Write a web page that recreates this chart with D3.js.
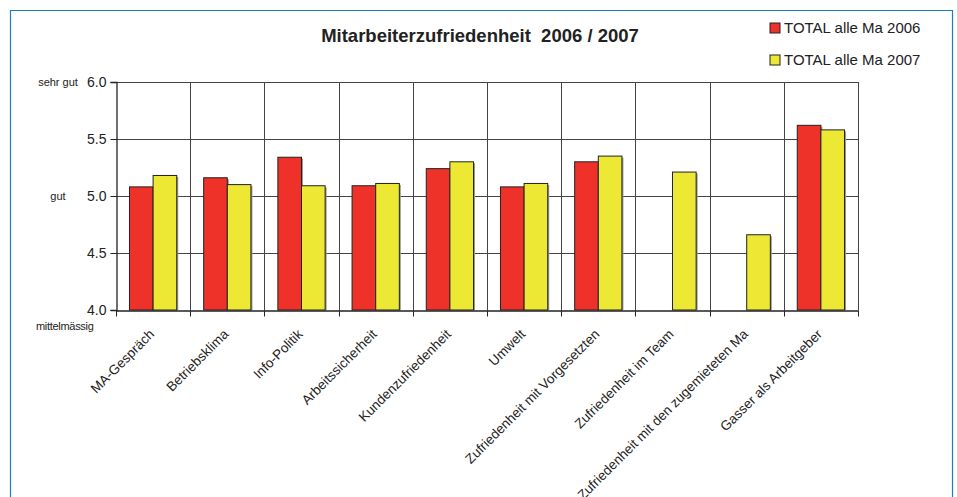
<!DOCTYPE html>
<html>
<head>
<meta charset="utf-8">
<script src="https://cdn.jsdelivr.net/npm/d3@7"></script>
<style>
	body { margin: 0; background: #fff; }
	text { font-family: "Liberation Sans", Arial, sans-serif; fill: #222; }
</style>
</head>
<body>
<div id="chart"></div>
<script>
// Kategorien und Werte
var categories = ["MA-Gespräch", "Betriebsklima", "Info-Politik", "Arbeitssicherheit", "Kundenzufriedenheit", "Umwelt", "Zufriedenheit mit Vorgesetzten", "Zufriedenheit im Team", "Zufriedenheit mit den zugemieteten Ma", "Gasser als Arbeitgeber"]
var values2006 = [5.08, 5.16, 5.34, 5.09, 5.24, 5.08, 5.30, null, null, 5.62]
var values2007 = [5.18, 5.10, 5.09, 5.11, 5.30, 5.11, 5.35, 5.21, 4.66, 5.58]
var seriesNames = ["TOTAL alle Ma 2006", "TOTAL alle Ma 2007"]
var seriesColors = ["#ee3229", "#ece834"]
var yTicks = [4.0, 4.5, 5.0, 5.5, 6.0]
var yWords = [{ v: 6.0, t: "sehr gut" }, { v: 5.0, t: "gut" }, { v: 4.0, t: "mittelmässig" }]

var width = 957, height = 497
var margin = { top: 82, right: 99, bottom: 187, left: 116 }

var svg = d3.select("#chart").append("svg")
	.attr("width", width)
	.attr("height", height)

// Rahmen (blau)
svg.append("path")
	.attr("d", "M10.5," + height + "V10.5H952.5V" + height)
	.attr("fill", "none")
	.attr("stroke", "#1a7fc1")
	.attr("stroke-width", 1.2)

var x = d3.scaleBand()
	.domain(categories)
	.range([margin.left, width - margin.right])
	.paddingInner(0)
	.paddingOuter(0)

var xSub = d3.scaleBand()
	.domain([0, 1])
	.range([0, x.bandwidth()])
	.paddingInner(0)
	.paddingOuter(0.57)

var y = d3.scaleLinear()
	.domain([4, 6])
	.range([height - margin.bottom, margin.top])

// horizontale Gitterlinien
svg.append("g")
	.selectAll("line")
	.data(yTicks.slice(1))
	.enter().append("line")
	.attr("x1", margin.left)
	.attr("x2", width - margin.right)
	.attr("y1", function (d) { return Math.round(y(d)) + 0.5 })
	.attr("y2", function (d) { return Math.round(y(d)) + 0.5 })
	.attr("stroke", "#444")
	.attr("stroke-width", 1)

// vertikale Gitterlinien (Kategoriegrenzen)
var bounds = categories.map(function (c) { return x(c) }).concat([x.range()[1]])
svg.append("g")
	.selectAll("line")
	.data(bounds.slice(1))
	.enter().append("line")
	.attr("x1", function (d) { return Math.round(d) + 0.5 })
	.attr("x2", function (d) { return Math.round(d) + 0.5 })
	.attr("y1", y(6))
	.attr("y2", y(4))
	.attr("stroke", "#444")
	.attr("stroke-width", 1)

// Balken
var data = []
categories.forEach(function (c, i) {
	data.push({ cat: c, s: 0, v: values2006[i] })
	data.push({ cat: c, s: 1, v: values2007[i] })
})
var bars = data.filter(function (d) { return d.v != null })

// leichter Schatten
svg.append("g")
	.selectAll("rect")
	.data(bars)
	.enter().append("rect")
	.attr("x", function (d) { return x(d.cat) + xSub(d.s) + 1.5 })
	.attr("y", function (d) { return y(d.v) + 1.5 })
	.attr("width", xSub.bandwidth())
	.attr("height", function (d) { return y(4) - y(d.v) - 1.5 })
	.attr("fill", "#999")

svg.append("g")
	.selectAll("rect")
	.data(bars)
	.enter().append("rect")
	.attr("x", function (d) { return x(d.cat) + xSub(d.s) })
	.attr("y", function (d) { return y(d.v) })
	.attr("width", xSub.bandwidth())
	.attr("height", function (d) { return y(4) - y(d.v) })
	.attr("fill", function (d) { return seriesColors[d.s] })
	.attr("stroke", "#222")
	.attr("stroke-width", 1)

// y-Achse
var yAxis = svg.append("g")
	.attr("transform", "translate(" + (margin.left + 0.5) + ",0)")
	.call(d3.axisLeft(y).tickValues(yTicks).tickFormat(d3.format(".1f")).tickSize(6).tickPadding(4))
yAxis.select(".domain").attr("stroke", "#222").attr("stroke-width", 1.3)
yAxis.selectAll(".tick line").attr("stroke", "#222")
yAxis.selectAll("text")
	.style("font-size", "14px")
	.style("font-family", "Liberation Sans, Arial, sans-serif")
	.attr("fill", "#222")

// x-Achse
var xAxis = svg.append("g")
	.attr("transform", "translate(0," + (y(4) + 0.5) + ")")
	.call(d3.axisBottom(x).tickValues([]).tickSizeOuter(0))
xAxis.select(".domain").attr("stroke", "#222").attr("stroke-width", 1.5)
xAxis.selectAll(".bt")
	.data(bounds)
	.enter().append("line")
	.attr("x1", function (d) { return Math.round(d) + 0.5 })
	.attr("x2", function (d) { return Math.round(d) + 0.5 })
	.attr("y1", 0)
	.attr("y2", 6)
	.attr("stroke", "#222")

// x-Beschriftung gedreht
svg.append("g")
	.selectAll("text")
	.data(categories)
	.enter().append("text")
	.attr("transform", function (d) {
		return "translate(" + (x(d) + x.bandwidth() / 2 + 2) + "," + (y(4) + 25) + ") rotate(-45)"
	})
	.style("text-anchor", "end")
	.style("font-size", "13.5px")
	.text(function (d) { return d })

// Wortbeschriftungen links
svg.append("g")
	.selectAll("text")
	.data(yWords)
	.enter().append("text")
	.attr("x", function (d) { return d.v == 4 ? 36 : 58 })
	.attr("y", function (d) { return d.v == 4 ? y(d.v) + 20 : y(d.v) + 4 })
	.style("text-anchor", function (d) { return d.v == 4 ? "start" : "middle" })
	.style("font-size", "11px")
	.style("letter-spacing", function (d) { return d.v == 4 ? "-0.3px" : "0px" })
	.text(function (d) { return d.t })

// Titel
svg.append("text")
	.attr("x", 480)
	.attr("y", 42)
	.style("text-anchor", "middle")
	.style("font-size", "18.5px")
	.style("font-weight", "bold")
	.style("white-space", "pre")
	.text("Mitarbeiterzufriedenheit  2006 / 2007")

// Legende
var legend = svg.append("g")
	.selectAll("g")
	.data(seriesNames)
	.enter().append("g")
	.attr("transform", function (d, i) { return "translate(770," + (23 + i * 32) + ")" })
legend.append("rect")
	.attr("width", 10)
	.attr("height", 10)
	.attr("fill", function (d, i) { return seriesColors[i] })
	.attr("stroke", "#222")
legend.append("text")
	.attr("x", 14)
	.attr("y", 10)
	.style("font-size", "15px")
	.text(function (d) { return d })
</script>
</body>
</html>
